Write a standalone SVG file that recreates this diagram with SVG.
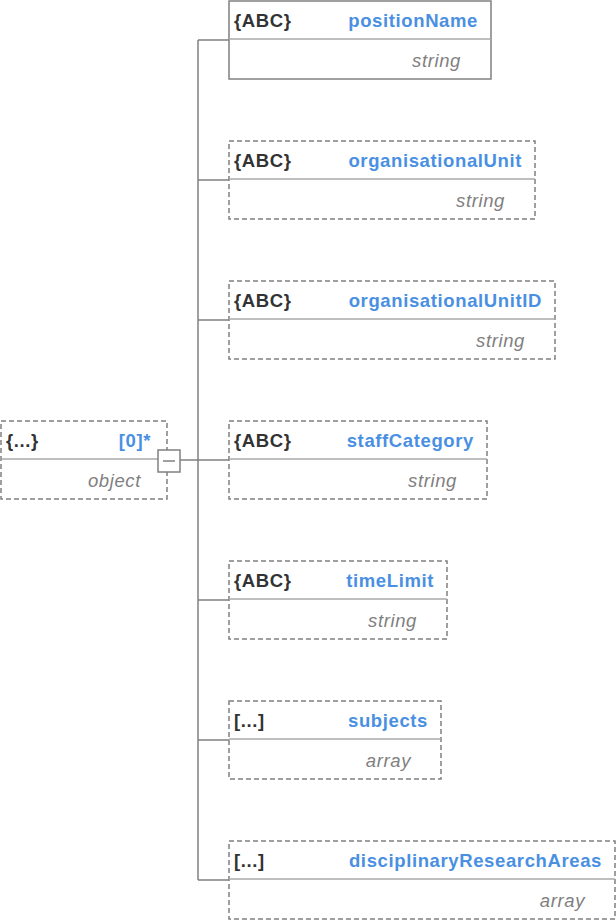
<svg xmlns="http://www.w3.org/2000/svg" width="616" height="920" viewBox="0 0 616 920">
<style>
.box{fill:#fff;stroke:#808080;stroke-width:1.5}
.dash{stroke-dasharray:5 3}
.div{stroke:#a8a8a8;stroke-width:1.5}
text{font-family:"Liberation Sans",Arial,sans-serif;font-size:18.5px;letter-spacing:0.62px}
.k{font-weight:bold;fill:#333}
.n{font-weight:bold;fill:#4a90e2;text-anchor:end}
.t{font-style:italic;fill:#808080;text-anchor:end}
.c{stroke:#808080;stroke-width:1.5;fill:none}
</style>
<g id="connectors">
<path class="c" d="M198 40V880M180 460H229M198 40H229M198 180H229M198 320H229M198 600H229M198 740H229M198 880H229"/>
</g>
<g id="root">
<rect class="box dash" x="1" y="421" width="166" height="78"/>
<line class="div" x1="1" y1="459" x2="167" y2="459"/>
<text class="k" x="6" y="446.5">{...}</text>
<text class="n" x="151" y="446.5">[0]*</text>
<text class="t" x="141" y="486.5">object</text>
<rect x="158" y="450" width="22" height="22" fill="#fff" stroke="#808080" stroke-width="1.5"/>
<line x1="163" y1="461" x2="175" y2="461" stroke="#808080" stroke-width="1.5"/>
</g>
<g id="positionName">
<rect class="box" x="229" y="1" width="262" height="78"/>
<line class="div" x1="229" y1="39" x2="491" y2="39"/>
<text class="k" x="234" y="26.5">{ABC}</text>
<text class="n" x="478" y="26.5">positionName</text>
<text class="t" x="461" y="66.5">string</text>
</g>
<g id="organisationalUnit">
<rect class="box dash" x="229" y="141" width="306" height="78"/>
<line class="div" x1="229" y1="179" x2="535" y2="179"/>
<text class="k" x="234" y="166.5">{ABC}</text>
<text class="n" x="522" y="166.5">organisationalUnit</text>
<text class="t" x="505" y="206.5">string</text>
</g>
<g id="organisationalUnitID">
<rect class="box dash" x="229" y="281" width="326" height="78"/>
<line class="div" x1="229" y1="319" x2="555" y2="319"/>
<text class="k" x="234" y="306.5">{ABC}</text>
<text class="n" x="542" y="306.5">organisationalUnitID</text>
<text class="t" x="525" y="346.5">string</text>
</g>
<g id="staffCategory">
<rect class="box dash" x="229" y="421" width="258" height="78"/>
<line class="div" x1="229" y1="459" x2="487" y2="459"/>
<text class="k" x="234" y="446.5">{ABC}</text>
<text class="n" x="474" y="446.5">staffCategory</text>
<text class="t" x="457" y="486.5">string</text>
</g>
<g id="timeLimit">
<rect class="box dash" x="229" y="561" width="218" height="78"/>
<line class="div" x1="229" y1="599" x2="447" y2="599"/>
<text class="k" x="234" y="586.5">{ABC}</text>
<text class="n" x="434" y="586.5">timeLimit</text>
<text class="t" x="417" y="626.5">string</text>
</g>
<g id="subjects">
<rect class="box dash" x="229" y="701" width="212" height="78"/>
<line class="div" x1="229" y1="739" x2="441" y2="739"/>
<text class="k" x="234" y="726.5">[...]</text>
<text class="n" x="428" y="726.5">subjects</text>
<text class="t" x="411" y="766.5">array</text>
</g>
<g id="disciplinaryResearchAreas">
<rect class="box dash" x="229" y="841" width="386" height="78"/>
<line class="div" x1="229" y1="879" x2="615" y2="879"/>
<text class="k" x="234" y="866.5">[...]</text>
<text class="n" x="602" y="866.5">disciplinaryResearchAreas</text>
<text class="t" x="585" y="906.5">array</text>
</g>
</svg>
